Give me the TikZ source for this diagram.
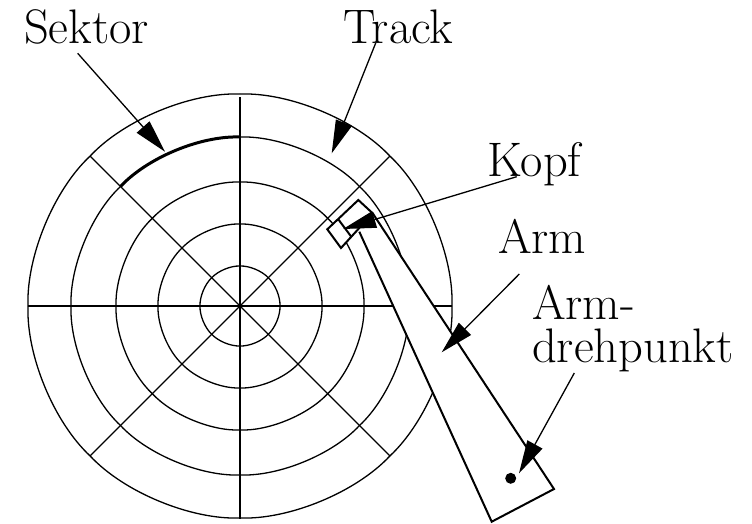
\documentclass[tikz,border=0pt]{standalone}
\usetikzlibrary{arrows.meta,calc}
\tikzset{
  ring/.style={line width=1.3pt},
  spoke/.style={line width=1.3pt},
  armline/.style={line width=2pt},
  pointer/.style={line width=1.3pt,-{Triangle[length=33pt,width=17pt]}},
  lab/.style={inner sep=0pt,anchor=base west,font=\fontsize{48.5}{43}\selectfont}
}
\newcommand{\octant}[2]{($(c)+({#1*cos(#2)},{#1*sin(#2)})$) .. controls ($(c)+({1.035*#1*cos(#2+13)},{1.035*#1*sin(#2+13)})$) and ($(c)+({1.035*#1*cos(#2+32)},{1.035*#1*sin(#2+32)})$) .. ($(c)+({#1*cos(#2+45)},{#1*sin(#2+45)})$)}
\begin{document}
\begin{tikzpicture}[x=1pt,y=-1pt]
\useasboundingbox (0,0) rectangle (752,523);
\coordinate (c) at (240,306);
% rings
\foreach \r in {212,169,124,82,40}{
  \foreach \a in {0,45,...,315}{
    \draw[ring] \octant{\r}{\a};
  }
}
% spokes
\coordinate (n) at (240,97);  \coordinate (s) at (240,519);
\coordinate (w) at (28,306);  \coordinate (e) at (452,306);
\coordinate (nw) at (90,156); \coordinate (se) at (390,456);
\coordinate (ne) at (390,156);\coordinate (sw) at (90,456);
\draw[spoke] (n) -- (s);
\draw[spoke] (w) -- (e);
\draw[spoke] (nw) -- (se);
\draw[spoke] (ne) -- (sw);
% highlighted sector
\draw[line width=3pt] \octant{169}{225};
% arm and head
\coordinate (h1) at (358.3,200);
\coordinate (h2) at (372.7,213.3);
\coordinate (h3) at (341,248);
\coordinate (h4) at (327.3,229.3);
\coordinate (d1) at (338.3,219.3);
\coordinate (d2) at (351.7,237.3);
\coordinate (a1) at (359.3,231.7);
\coordinate (a2) at (491.7,521.7);
\coordinate (a3) at (554,489);
\fill[white] (a1) -- (a2) -- (a3) -- (h2) -- cycle;
\fill[white] (h1) -- (h2) -- (h3) -- (h4) -- cycle;
\draw[armline] (h1) -- (h2) -- (h3) -- (h4) -- cycle;
\draw[armline] (d1) -- (d2);
\draw[armline,line join=miter] (a1) -- (a2) -- (a3) -- (h2);
\fill (510.7,478.3) circle (5.5);
% labels
\node[lab] (sektor) at (24,43) {Sektor};
\node[lab] (track) at (343,43) {Track};
\node[lab] (kopf) at (487,176) {Kopf};
\node[lab] (arm) at (498,253) {Arm};
\node[lab,align=left,anchor=south west] (dreh) at (532,372) {Arm-\\drehpunkt};
% pointers
\coordinate (ps) at (77.7,53.3); \coordinate (ts) at (165,151.7);
\coordinate (pt) at (375.7,43);    \coordinate (tt) at (331.7,153.3);
\coordinate (pk) at (516.7,176.7); \coordinate (tk) at (343,229);
\coordinate (pa) at (519.3,274); \coordinate (ta) at (441.7,352.3);
\coordinate (pd) at (574.3,373); \coordinate (td) at (519,473.3);
\draw[pointer] (ps) -- (ts);
\draw[pointer] (pt) -- (tt);
\draw[pointer] (pk) -- (tk);
\draw[pointer] (pa) -- (ta);
\draw[pointer] (pd) -- (td);
\end{tikzpicture}
\end{document}
